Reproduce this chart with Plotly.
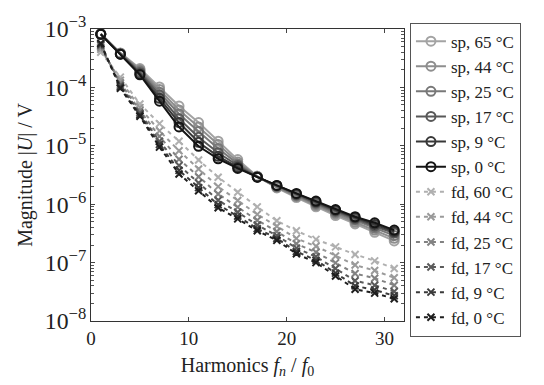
import plotly.graph_objects as go

harmonics = [1, 3, 5, 7, 9, 11, 13, 15, 17, 19, 21, 23, 25, 27, 29, 31]

sp_labels = ["sp, 65 °C", "sp, 44 °C", "sp, 25 °C", "sp, 17 °C", "sp, 9 °C", "sp, 0 °C"]
sp_65 = [8.3e-4, 3.9e-4, 2.1e-4, 1.02e-4, 4.8e-5, 2.5e-5, 1.2e-5, 5.8e-6, 3.0e-6, 1.9e-6, 1.3e-6, 9.0e-7, 6.4e-7, 4.6e-7, 3.3e-7, 2.35e-7]
sp_44 = [8.3e-4, 3.85e-4, 2.0e-4, 9.2e-5, 4.1e-5, 2.1e-5, 1.05e-5, 5.3e-6, 3.0e-6, 1.95e-6, 1.35e-6, 9.5e-7, 6.8e-7, 4.9e-7, 3.6e-7, 2.6e-7]
sp_25 = [8.2e-4, 3.8e-4, 1.9e-4, 8.3e-5, 3.5e-5, 1.75e-5, 9.0e-6, 4.9e-6, 2.95e-6, 2.0e-6, 1.4e-6, 1.0e-6, 7.2e-7, 5.3e-7, 3.9e-7, 2.9e-7]
sp_17 = [8.2e-4, 3.75e-4, 1.8e-4, 7.4e-5, 2.9e-5, 1.4e-5, 7.6e-6, 4.6e-6, 2.9e-6, 2.05e-6, 1.45e-6, 1.05e-6, 7.6e-7, 5.6e-7, 4.2e-7, 3.2e-7]
sp_9 = [8.1e-4, 3.7e-4, 1.7e-4, 6.5e-5, 2.5e-5, 1.15e-5, 6.6e-6, 4.3e-6, 2.9e-6, 2.1e-6, 1.5e-6, 1.1e-6, 7.9e-7, 5.9e-7, 4.5e-7, 3.4e-7]
sp_0 = [8.1e-4, 3.7e-4, 1.64e-4, 5.8e-5, 2.1e-5, 9.8e-6, 6.0e-6, 4.1e-6, 2.9e-6, 2.1e-6, 1.53e-6, 1.13e-6, 8.1e-7, 6.1e-7, 4.8e-7, 3.6e-7]

fd_labels = ["fd, 60 °C", "fd, 44 °C", "fd, 25 °C", "fd, 17 °C", "fd, 9 °C", "fd, 0 °C"]
fd_60 = [4.0e-4, 1.5e-4, 5.2e-5, 2.4e-5, 1.2e-5, 5.7e-6, 2.9e-6, 1.6e-6, 9.0e-7, 5.2e-7, 3.5e-7, 2.5e-7, 1.86e-7, 1.38e-7, 1.07e-7, 7.9e-8]
fd_44 = [4.5e-4, 1.33e-4, 4.5e-5, 1.8e-5, 8.2e-6, 4.0e-6, 2.0e-6, 1.16e-6, 6.7e-7, 4.2e-7, 2.6e-7, 1.9e-7, 1.3e-7, 9.1e-8, 7.3e-8, 5.5e-8]
fd_25 = [4.9e-4, 1.19e-4, 4.0e-5, 1.45e-5, 5.9e-6, 2.95e-6, 1.5e-6, 8.9e-7, 5.3e-7, 3.4e-7, 2.1e-7, 1.5e-7, 9.9e-8, 6.5e-8, 5.4e-8, 4.1e-8]
fd_17 = [5.25e-4, 1.09e-4, 3.65e-5, 1.2e-5, 4.6e-6, 2.3e-6, 1.17e-6, 7.3e-7, 4.4e-7, 2.9e-7, 1.77e-7, 1.26e-7, 7.9e-8, 4.9e-8, 4.1e-8, 3.2e-8]
fd_9 = [5.5e-4, 1.02e-4, 3.4e-5, 1.05e-5, 3.8e-6, 1.92e-6, 9.8e-7, 6.2e-7, 3.8e-7, 2.6e-7, 1.55e-7, 1.1e-7, 6.6e-8, 4.0e-8, 3.4e-8, 2.7e-8]
fd_0 = [5.7e-4, 9.7e-5, 3.2e-5, 9.5e-6, 3.3e-6, 1.7e-6, 8.7e-7, 5.6e-7, 3.5e-7, 2.4e-7, 1.42e-7, 1.0e-7, 5.9e-8, 3.5e-8, 3.0e-8, 2.4e-8]

sp_series = [sp_65, sp_44, sp_25, sp_17, sp_9, sp_0]
fd_series = [fd_60, fd_44, fd_25, fd_17, fd_9, fd_0]
sp_colors = ["#a3a3a3", "#8e8e8e", "#787878", "#585858", "#383838", "#141414"]
fd_colors = ["#b0b0b0", "#9a9a9a", "#828282", "#5a5a5a", "#3a3a3a", "#1e1e1e"]

x_tickvals = [0, 10, 20, 30]

fig = go.Figure()
for lab, vals, col in zip(sp_labels, sp_series, sp_colors):
    fig.add_trace(go.Scatter(
        x=harmonics, y=vals, name=lab, mode="lines+markers",
        line=dict(color=col, width=2),
        marker=dict(symbol="circle-open", size=9, color=col, line=dict(width=2, color=col)),
    ))
for lab, vals, col in zip(fd_labels, fd_series, fd_colors):
    fig.add_trace(go.Scatter(
        x=harmonics, y=vals, name=lab, mode="lines+markers",
        line=dict(color=col, width=2, dash="4px,4px"),
        marker=dict(symbol="x-thin-open", size=7, color=col, line=dict(width=2, color=col)),
    ))

font_family = "Liberation Serif, DejaVu Serif, serif"
fig.update_layout(
    width=544, height=385,
    margin=dict(l=91, r=140, t=17, b=56),
    paper_bgcolor="white", plot_bgcolor="white",
    font=dict(family=font_family, size=20, color="#222"),
    showlegend=True,
    legend=dict(
        x=1.019, y=1.022, xanchor="left", yanchor="top",
        bordercolor="#555", borderwidth=1, bgcolor="white",
        font=dict(size=17, family=font_family, color="#222"),
        tracegroupgap=0, itemwidth=30, maxheight=370,
    ),
    xaxis=dict(
        range=[0, 32], tickvals=x_tickvals, ticks="inside", ticklen=4,
        showline=True, linecolor="#333", linewidth=1, mirror="ticks",
        showgrid=False, zeroline=False,
        title=dict(text="Harmonics <i>f<sub>n</sub></i> / <i>f</i><sub>0</sub>", standoff=10,
                   font=dict(size=20)),
        tickfont=dict(size=19),
    ),
    yaxis=dict(
        type="log", range=[-8, -3], tickmode="linear", tick0=0, dtick=1,
        exponentformat="power",
        ticks="inside", ticklen=4,
        minor=dict(ticks="inside", ticklen=3, dtick="D1", showgrid=False, tickcolor="#555"),
        showline=True, linecolor="#333", linewidth=1, mirror="ticks",
        showgrid=False, zeroline=False,
        title=dict(text="Magnitude |<i>U</i>| / V", standoff=6, font=dict(size=20)),
        tickfont=dict(size=19),
    ),
)

fig.write_html("out.html")
